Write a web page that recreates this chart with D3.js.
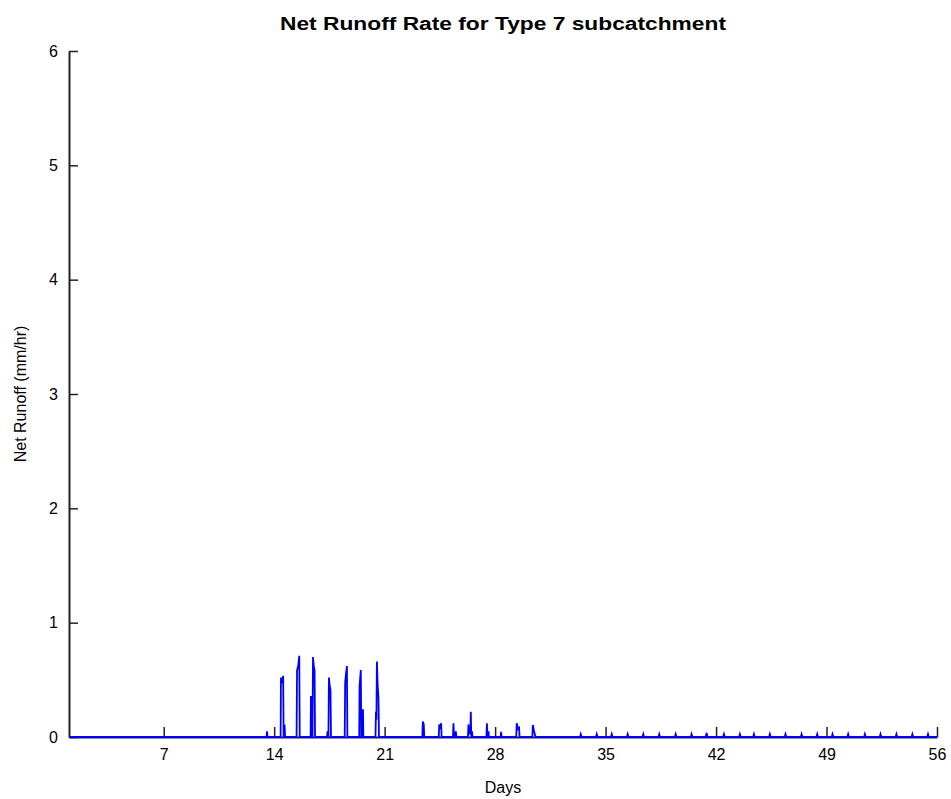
<!DOCTYPE html>
<html>
<head>
<meta charset="utf-8">
<script src="https://cdn.jsdelivr.net/npm/d3@7"></script>
<style>
  html, body { margin: 0; padding: 0; background: #fff; }
  svg { display: block; }
  text { font-family: "Liberation Sans", Arial, Helvetica, sans-serif; fill: #000; }
</style>
</head>
<body>
<svg id="chart" width="951" height="799"></svg>
<script>
// Net runoff time series: time in days, rate in mm/hr
const timeDays = [
  1,
  13.52, 13.55, 13.58,
  14.41, 14.43, 14.50, 14.57, 14.60,
  14.64, 14.66, 14.69,
  15.42, 15.45, 15.52, 15.59, 15.62,
  16.31, 16.33, 16.38, 16.40,
  16.43, 16.46, 16.51, 16.56, 16.59,
  17.35, 17.38, 17.41,
  17.44, 17.47, 17.52, 17.57, 17.60,
  18.47, 18.50, 18.55, 18.61, 18.64,
  19.39, 19.41, 19.49, 19.52,
  19.56, 19.58, 19.63, 19.65,
  20.42, 20.45, 20.48, 20.51, 20.56, 20.61, 20.64,
  23.39, 23.42, 23.48, 23.51,
  24.43, 24.46, 24.52, 24.58, 24.61,
  25.33, 25.36, 25.40, 25.47, 25.51, 25.55,
  26.28, 26.31, 26.36, 26.43, 26.46, 26.49, 26.51, 26.54, 26.57,
  27.45, 27.48, 27.52, 27.55, 27.58, 27.61,
  28.35, 28.38, 28.41,
  29.34, 29.37, 29.45, 29.52, 29.55,
  30.36, 30.39, 30.47, 30.56,
  33.38, 33.43, 33.48,
  34.39, 34.44, 34.49,
  35.34, 35.39, 35.44,
  36.35, 36.40, 36.45,
  37.34, 37.39, 37.44,
  38.35, 38.40, 38.45,
  39.39, 39.44, 39.49,
  40.40, 40.45, 40.50,
  41.34, 41.40, 41.46,
  42.45, 42.50, 42.55,
  43.46, 43.51, 43.56,
  44.35, 44.40, 44.45,
  45.36, 45.41, 45.46,
  46.35, 46.40, 46.45,
  47.37, 47.42, 47.47,
  48.36, 48.41, 48.46,
  49.33, 49.38, 49.43,
  50.32, 50.37, 50.42,
  51.38, 51.43, 51.48,
  52.37, 52.42, 52.47,
  53.38, 53.43, 53.48,
  54.39, 54.44, 54.49,
  55.38, 55.43, 55.48,
  56
];
const runoffRate = [
  0,
  0, 0.05, 0,
  0, 0.52, 0.47, 0.535, 0,
  0, 0.11, 0,
  0, 0.585, 0.62, 0.71, 0,
  0, 0.35, 0.35, 0,
  0, 0.70, 0.62, 0.585, 0,
  0, 0.05, 0,
  0, 0.52, 0.45, 0.41, 0,
  0, 0.48, 0.55, 0.62, 0,
  0, 0.445, 0.585, 0,
  0, 0.235, 0.235, 0,
  0, 0.22, 0.15, 0.66, 0.45, 0.34, 0,
  0, 0.135, 0.11, 0,
  0, 0.11, 0.09, 0.12, 0,
  0, 0.12, 0, 0, 0.05, 0,
  0, 0.11, 0.03, 0.03, 0.22, 0, 0, 0.05, 0,
  0, 0.12, 0, 0, 0.05, 0,
  0, 0.045, 0,
  0, 0.12, 0.07, 0.08, 0,
  0, 0.105, 0.05, 0,
  0, 0.025, 0,
  0, 0.025, 0,
  0, 0.025, 0,
  0, 0.025, 0,
  0, 0.025, 0,
  0, 0.025, 0,
  0, 0.025, 0,
  0, 0.025, 0,
  0, 0.035, 0,
  0, 0.025, 0,
  0, 0.025, 0,
  0, 0.025, 0,
  0, 0.025, 0,
  0, 0.025, 0,
  0, 0.025, 0,
  0, 0.025, 0,
  0, 0.025, 0,
  0, 0.025, 0,
  0, 0.025, 0,
  0, 0.025, 0,
  0, 0.025, 0,
  0, 0.025, 0,
  0, 0.025, 0,
  0
];
const xTickValues = [7, 14, 21, 28, 35, 42, 49, 56];
const yTickValues = [0, 1, 2, 3, 4, 5, 6];

const titleText = "Net Runoff Rate for Type 7 subcatchment";
const xLabel = "Days";
const yLabel = "Net Runoff (mm/hr)";

const svg = d3.select("#chart");
const plot = { left: 69, right: 937, top: 51, bottom: 737 };

const x = d3.scaleLinear().domain([1, 56]).range([plot.left, plot.right]);
const y = d3.scaleLinear().domain([0, 6]).range([plot.bottom, plot.top]);

// Axes (ticks point inward)
const yAxis = svg.append("g")
  .attr("transform", `translate(${plot.left},0)`)
  .call(d3.axisLeft(y).tickValues(yTickValues).tickFormat(d3.format("d"))
    .tickSizeInner(-9).tickSizeOuter(0).tickPadding(11));
const xAxis = svg.append("g")
  .attr("transform", `translate(0,${plot.bottom})`)
  .call(d3.axisBottom(x).tickValues(xTickValues).tickFormat(d3.format("d"))
    .tickSizeInner(-10).tickSizeOuter(0).tickPadding(12));

[yAxis, xAxis].forEach(g => {
  g.select(".domain").attr("stroke", "#222").attr("stroke-width", 2);
  g.selectAll(".tick line").attr("stroke", "#222").attr("stroke-width", 1.5);
  g.selectAll(".tick text").attr("font-size", 16).attr("fill", "#000")
    .style("font-family", '"Liberation Sans", Arial, sans-serif');
});

// Runoff series
const series = timeDays.map((t, i) => [t, runoffRate[i]]);
svg.append("path")
  .datum(series)
  .attr("fill", "none")
  .attr("stroke", "#0000ff")
  .attr("stroke-width", 1.8)
  .attr("stroke-linejoin", "miter")
  .attr("d", d3.line().x(d => x(d[0])).y(d => y(d[1])));

// Title and axis labels
svg.append("text")
  .attr("x", (plot.left + plot.right) / 2)
  .attr("y", 30)
  .attr("text-anchor", "middle")
  .attr("font-size", 18)
  .attr("font-weight", "bold")
  .attr("textLength", 446)
  .attr("lengthAdjust", "spacingAndGlyphs")
  .text(titleText);

svg.append("text")
  .attr("x", (plot.left + plot.right) / 2)
  .attr("y", 793)
  .attr("text-anchor", "middle")
  .attr("font-size", 16)
  .text(xLabel);

svg.append("text")
  .attr("transform", `translate(26,${(plot.top + plot.bottom) / 2}) rotate(-90)`)
  .attr("text-anchor", "middle")
  .attr("font-size", 16)
  .text(yLabel);
</script>
</body>
</html>
